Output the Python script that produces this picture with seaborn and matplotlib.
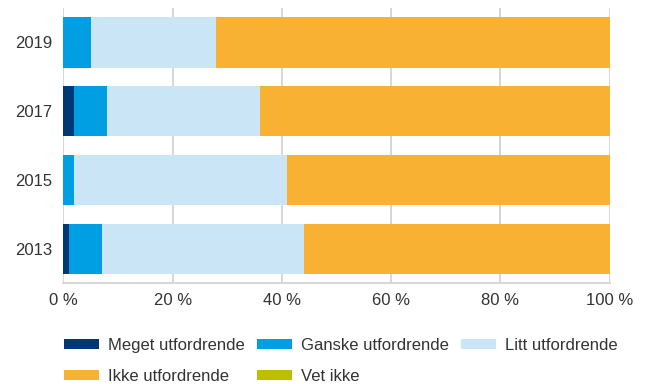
import matplotlib
matplotlib.use("Agg")
import matplotlib.pyplot as plt
import seaborn as sns
import pandas as pd
import numpy as np
from matplotlib.patches import Patch

years = ["2019", "2017", "2015", "2013"]
categories = ["Meget utfordrende", "Ganske utfordrende", "Litt utfordrende", "Ikke utfordrende", "Vet ikke"]
meget = [0, 2, 0, 1]
ganske = [5, 6, 2, 6]
litt = [23, 28, 39, 37]
ikke = [72, 64, 59, 56]
vet = [0, 0, 0, 0]
colors = ["#003775", "#009FE3", "#C9E5F6", "#F8B133", "#BDBE00"]
xticks = [0, 20, 40, 60, 80, 100]
xticklabels = ["0 %", "20 %", "40 %", "60 %", "80 %", "100 %"]

sns.set_theme(style="white")
plt.rcParams['font.family'] = ['Liberation Sans', 'DejaVu Sans']

series = [meget, ganske, litt, ikke, vet]
rows = []
for i, y in enumerate(years):
    cum = 0
    for c, s in zip(categories, series):
        cum += s[i]
        rows.append({"year": y, "category": c, "cum": cum})
df = pd.DataFrame(rows)

fig = plt.figure(figsize=(6.51, 3.84), dpi=100)
ax = fig.add_axes([0.0975, 0.263, 0.839, 0.716])

for c, col in reversed(list(zip(categories, colors))):
    sub = df[df["category"] == c]
    sns.barplot(data=sub, x="cum", y="year", order=years, color=col, orient="h",
                width=0.73, errorbar=None, ax=ax, saturation=1, linewidth=0)

ax.set_xlim(0, 100)
ax.set_ylim(3.5, -0.5)
ax.set_xticks(xticks)
ax.set_xticklabels(xticklabels)
ax.set_xlabel("")
ax.set_ylabel("")
ax.set_axisbelow(True)
ax.grid(axis="x", color="#d6d6d6", linewidth=1.4)
ax.grid(axis="y", visible=False)
for s in ["top", "right", "left"]:
    ax.spines[s].set_visible(False)
ax.spines["bottom"].set_color("#d6d6d6")
ax.spines["bottom"].set_linewidth(1.4)
ax.tick_params(axis="both", length=0, labelsize=12, labelcolor="#333333")
ax.tick_params(axis="x", pad=7)
ax.tick_params(axis="y", pad=8)

# row-wise legend order for a 3-column legend (matplotlib fills column-wise)
legend_order = [0, 3, 1, 4, 2]
handles = [Patch(facecolor=colors[i], edgecolor="none", label=categories[i]) for i in legend_order]
fig.legend(handles=handles, loc="upper left", bbox_to_anchor=(0.098, 0.12), ncol=3,
           frameon=False, fontsize=12, handlelength=2.1, handleheight=0.5,
           handletextpad=0.55, columnspacing=0.72, labelspacing=0.95,
           borderaxespad=0, borderpad=0, labelcolor="#333333")

fig.savefig("out.png", dpi=100)
